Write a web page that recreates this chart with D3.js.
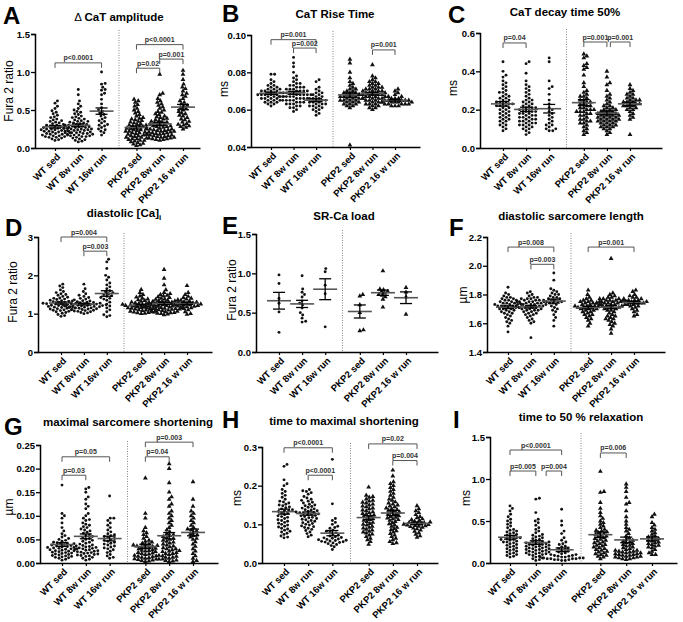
<!DOCTYPE html>
<html lang="en">
<head>
<meta charset="UTF-8">
<script src="https://d3js.org/d3.v7.min.js"></script>
<style>
  body { margin: 0; background: #fff; }
  svg { font-family: "Liberation Sans", Arial, sans-serif; }
</style>
</head>
<body>
<svg width="683" height="622"></svg>
<script>
// groups on every x axis, slot 2.75 holds the dotted divider
var groups = ["WT sed", "WT 8w run", "WT 16w run", "PKP2 sed", "PKP2 8w run", "PKP2 16 w run"];
var slots = [0, 1, 2, 3.5, 4.5, 5.5];

// ---- A: delta CaT amplitude (Fura 2 ratio)
var ampTicks = [0, 0.5, 1.0, 1.5];
var ampValues = [
  [0.62,0.59,0.55,0.52,0.49,0.47,0.45,0.43,0.41,0.40,0.38,0.37,0.36,0.35,0.34,0.33,0.32,0.31,0.30,0.30,0.29,0.28,0.28,0.27,0.27,0.26,0.26,0.25,0.25,0.24,0.24,0.23,0.23,0.22,0.22,0.21,0.21,0.20,0.20,0.19,0.19,0.18,0.18,0.17,0.17,0.16,0.16,0.15,0.15,0.14,0.14,0.13,0.12,0.11,0.10],
  [0.77,0.70,0.62,0.58,0.55,0.52,0.50,0.48,0.47,0.45,0.44,0.42,0.41,0.40,0.39,0.38,0.37,0.36,0.35,0.35,0.34,0.33,0.33,0.32,0.31,0.31,0.30,0.30,0.29,0.29,0.28,0.28,0.27,0.27,0.26,0.26,0.25,0.25,0.25,0.24,0.24,0.23,0.23,0.22,0.22,0.21,0.21,0.20,0.20,0.19,0.19,0.18,0.18,0.17,0.17,0.16,0.16,0.15,0.15,0.14,0.13,0.12,0.11,0.10,0.09,0.08],
  [1.00,0.85,0.84,0.80,0.77,0.76,0.72,0.70,0.64,0.58,0.53,0.50,0.48,0.46,0.44,0.42,0.40,0.38,0.36,0.35,0.33,0.31,0.29,0.27,0.25,0.22,0.20,0.17,0.30,0.24],
  [0.64,0.62,0.60,0.57,0.55,0.52,0.50,0.48,0.46,0.44,0.42,0.40,0.39,0.38,0.37,0.36,0.35,0.34,0.33,0.32,0.31,0.30,0.30,0.29,0.28,0.28,0.27,0.26,0.26,0.25,0.24,0.24,0.23,0.22,0.22,0.21,0.20,0.20,0.19,0.18,0.18,0.17,0.16,0.16,0.15,0.14,0.14,0.13,0.12,0.12,0.11,0.10,0.10,0.09,0.08,0.07,0.06,0.05,0.04,0.03],
  [0.97,0.72,0.70,0.65,0.62,0.60,0.58,0.56,0.54,0.52,0.50,0.48,0.47,0.45,0.44,0.42,0.41,0.40,0.39,0.38,0.37,0.36,0.35,0.34,0.34,0.33,0.32,0.31,0.31,0.30,0.29,0.29,0.28,0.28,0.27,0.26,0.26,0.25,0.25,0.24,0.24,0.23,0.23,0.22,0.22,0.21,0.21,0.20,0.20,0.19,0.19,0.18,0.18,0.17,0.17,0.16,0.16,0.15,0.15,0.14,0.14,0.13,0.13,0.12,0.12,0.11,0.11,0.10],
  [1.02,0.97,0.90,0.84,0.80,0.78,0.75,0.72,0.70,0.68,0.65,0.62,0.60,0.58,0.56,0.55,0.53,0.52,0.50,0.48,0.46,0.45,0.43,0.42,0.40,0.38,0.37,0.35,0.34,0.32,0.31,0.30,0.29,0.28,0.27,0.25]
];
var ampBrackets = [[0, 2, 1.12, "p<0.0001"], [3, 5, 1.36, "p<0.0001"], [3, 4, 1.05, "p=0.02"], [4, 5, 1.17, "p=0.001"]];

// ---- B: CaT rise time (ms)
var riseTicks = [0.04, 0.06, 0.08, 0.10];
var riseValues = [
  [0.079,0.079,0.076,0.075,0.074,0.073,0.073,0.072,0.072,0.071,0.071,0.071,0.070,0.070,0.070,0.070,0.069,0.069,0.069,0.069,0.068,0.068,0.068,0.068,0.068,0.067,0.067,0.067,0.067,0.066,0.066,0.066,0.066,0.065,0.065,0.065,0.064,0.064,0.064,0.063,0.063,0.062],
  [0.088,0.085,0.083,0.080,0.078,0.077,0.076,0.075,0.074,0.074,0.073,0.073,0.072,0.072,0.072,0.071,0.071,0.071,0.070,0.070,0.070,0.070,0.069,0.069,0.069,0.069,0.068,0.068,0.068,0.068,0.068,0.067,0.067,0.067,0.067,0.067,0.066,0.066,0.066,0.066,0.065,0.065,0.065,0.065,0.064,0.064,0.064,0.063,0.063,0.063,0.062,0.062,0.061,0.061,0.060,0.059],
  [0.076,0.075,0.072,0.071,0.070,0.069,0.069,0.068,0.068,0.067,0.067,0.066,0.066,0.066,0.065,0.065,0.065,0.064,0.064,0.064,0.063,0.063,0.063,0.062,0.062,0.062,0.061,0.061,0.060,0.060,0.059,0.058,0.057],
  [0.087,0.085,0.080,0.077,0.075,0.074,0.073,0.072,0.071,0.071,0.070,0.070,0.069,0.069,0.069,0.068,0.068,0.068,0.067,0.067,0.067,0.067,0.066,0.066,0.066,0.066,0.065,0.065,0.065,0.065,0.064,0.064,0.064,0.063,0.063,0.063,0.062,0.062,0.061,0.041],
  [0.084,0.078,0.077,0.076,0.075,0.075,0.074,0.074,0.073,0.073,0.072,0.072,0.072,0.071,0.071,0.071,0.070,0.070,0.070,0.070,0.069,0.069,0.069,0.069,0.068,0.068,0.068,0.068,0.068,0.067,0.067,0.067,0.067,0.066,0.066,0.066,0.066,0.065,0.065,0.065,0.064,0.064,0.064,0.063,0.063,0.063,0.062,0.062,0.061,0.061,0.060],
  [0.071,0.070,0.069,0.068,0.067,0.067,0.066,0.066,0.066,0.065,0.065,0.065,0.065,0.065,0.064,0.064,0.064,0.064,0.064,0.063,0.063,0.063,0.063,0.063,0.062,0.062,0.062]
];
var riseBrackets = [[0, 2, 0.0975, "p=0.001"], [1, 2, 0.093, "p=0.002"], [4, 5, 0.092, "p=0.001"]];

// ---- C: CaT decay time 50% (ms)
var decayTicks = [0, 0.2, 0.4, 0.6];
var decayValues = [
  [0.45,0.40,0.38,0.37,0.35,0.34,0.33,0.32,0.31,0.30,0.29,0.29,0.28,0.27,0.27,0.26,0.26,0.25,0.25,0.24,0.24,0.24,0.23,0.23,0.23,0.22,0.22,0.22,0.21,0.21,0.20,0.20,0.19,0.19,0.18,0.18,0.17,0.17,0.16,0.16,0.15,0.15,0.14,0.14,0.13,0.12,0.12,0.11,0.10,0.09],
  [0.45,0.44,0.39,0.35,0.33,0.32,0.31,0.30,0.29,0.28,0.27,0.26,0.25,0.25,0.24,0.24,0.23,0.23,0.22,0.22,0.21,0.21,0.21,0.20,0.20,0.20,0.19,0.19,0.19,0.18,0.18,0.18,0.17,0.17,0.17,0.16,0.16,0.16,0.15,0.15,0.15,0.14,0.14,0.14,0.13,0.13,0.13,0.12,0.12,0.12,0.11,0.11,0.10,0.10,0.09,0.08,0.07],
  [0.47,0.45,0.35,0.32,0.31,0.28,0.25,0.23,0.21,0.20,0.19,0.18,0.17,0.16,0.15,0.14,0.13,0.12,0.12,0.11,0.10,0.10,0.09,0.09],
  [0.49,0.48,0.47,0.44,0.43,0.42,0.41,0.38,0.34,0.32,0.30,0.29,0.28,0.27,0.27,0.26,0.25,0.25,0.24,0.24,0.23,0.23,0.22,0.22,0.21,0.21,0.20,0.20,0.20,0.19,0.19,0.19,0.18,0.18,0.17,0.17,0.16,0.15,0.15,0.14,0.14,0.13,0.13,0.12,0.11,0.10,0.09,0.08,0.07],
  [0.40,0.37,0.34,0.33,0.30,0.28,0.27,0.26,0.25,0.24,0.23,0.22,0.22,0.21,0.21,0.20,0.20,0.20,0.19,0.19,0.19,0.18,0.18,0.18,0.18,0.17,0.17,0.17,0.17,0.16,0.16,0.16,0.16,0.15,0.15,0.15,0.15,0.14,0.14,0.14,0.14,0.13,0.13,0.13,0.12,0.12,0.12,0.11,0.11,0.11,0.10,0.10,0.09,0.08,0.07],
  [0.33,0.31,0.30,0.29,0.28,0.28,0.27,0.26,0.26,0.25,0.25,0.25,0.24,0.24,0.24,0.23,0.23,0.23,0.22,0.22,0.22,0.21,0.21,0.20,0.20,0.19,0.18,0.17,0.16,0.15,0.07]
];
var decayBrackets = [[0, 1, 0.548, "p=0.04"], [3, 4, 0.553, "p=0.001"], [4.15, 5, 0.553, "p=0.001"]];

// ---- D: diastolic [Ca]i (Fura 2 ratio)
var diaCaTicks = [0, 1, 2, 3];
var diaCaValues = [
  [1.77,1.72,1.68,1.62,1.58,1.55,1.52,1.50,1.48,1.45,1.43,1.41,1.40,1.38,1.37,1.35,1.34,1.33,1.32,1.31,1.30,1.29,1.28,1.27,1.27,1.26,1.25,1.25,1.24,1.23,1.22,1.21,1.20,1.19,1.18,1.17,1.16,1.15,1.14,1.13,1.12,1.11,1.10,1.09,1.08,1.06,1.05,1.03,1.01,0.98,0.95,0.93],
  [1.77,1.65,1.58,1.52,1.48,1.45,1.42,1.40,1.38,1.36,1.34,1.33,1.32,1.31,1.30,1.29,1.28,1.27,1.26,1.26,1.25,1.25,1.24,1.23,1.23,1.22,1.21,1.21,1.20,1.20,1.19,1.18,1.18,1.17,1.16,1.15,1.15,1.14,1.13,1.12,1.11,1.10,1.09,1.08,1.07,1.06,1.05,1.03,1.02,1.00],
  [2.42,2.35,2.18,2.00,1.95,1.88,1.80,1.75,1.70,1.65,1.60,1.57,1.55,1.52,1.50,1.47,1.45,1.42,1.40,1.38,1.35,1.30,1.25,1.20,1.15,1.10,1.05,0.97,0.95,0.92],
  [1.63,1.55,1.50,1.46,1.43,1.40,1.38,1.36,1.34,1.32,1.31,1.30,1.29,1.28,1.27,1.26,1.25,1.24,1.24,1.23,1.22,1.22,1.21,1.20,1.20,1.19,1.18,1.17,1.16,1.15,1.14,1.13,1.12,1.11,1.10,1.09,1.08,1.07,1.06,1.05,1.04,1.03,1.02,1.01,1.00],
  [2.15,1.92,1.75,1.62,1.55,1.52,1.50,1.48,1.46,1.44,1.42,1.40,1.38,1.37,1.36,1.35,1.34,1.33,1.32,1.31,1.30,1.29,1.28,1.27,1.26,1.25,1.25,1.24,1.23,1.22,1.21,1.20,1.20,1.19,1.18,1.17,1.17,1.16,1.15,1.15,1.14,1.13,1.13,1.12,1.11,1.10,1.09,1.08,1.07,1.06,1.05,1.04,1.03,1.02,1.01,1.00,0.99,0.97],
  [1.73,1.55,1.50,1.45,1.42,1.40,1.38,1.35,1.33,1.31,1.30,1.29,1.28,1.27,1.26,1.25,1.25,1.24,1.23,1.22,1.21,1.20,1.19,1.18,1.16,1.15,1.13,1.10,1.05,1.00,0.98]
];
var diaCaBrackets = [[0, 2, 3.0, "p=0.004"], [1, 2, 2.63, "p=0.003"]];

// ---- E: SR-Ca load (Fura 2 ratio)
var srTicks = [0, 0.5, 1.0, 1.5];
var srValues = [
  [0.98,0.87,0.68,0.62,0.51,0.25],
  [0.97,0.80,0.76,0.73,0.70,0.65,0.62,0.60,0.56,0.50,0.47,0.43,0.39,0.38],
  [1.06,1.02,0.85,0.74,0.32],
  [0.73,0.71,0.60,0.50,0.28,0.27],
  [1.03,0.80,0.79,0.77,0.76,0.75,0.73,0.72,0.70,0.67,0.57],
  [0.82,0.76,0.70,0.48]
];
var srBrackets = [];

// ---- F: diastolic sarcomere length (um)
var slTicks = [1.4, 1.6, 1.8, 2.0, 2.2];
var slValues = [
  [1.85,1.81,1.80,1.79,1.78,1.78,1.77,1.77,1.76,1.76,1.76,1.75,1.75,1.75,1.74,1.74,1.74,1.73,1.73,1.73,1.73,1.72,1.72,1.72,1.72,1.71,1.71,1.71,1.70,1.70,1.70,1.69,1.69,1.68,1.68,1.67,1.67,1.66,1.65,1.64,1.63,1.62,1.61,1.60,1.58,1.54],
  [1.82,1.81,1.80,1.79,1.78,1.78,1.77,1.77,1.77,1.76,1.76,1.76,1.75,1.75,1.75,1.75,1.74,1.74,1.74,1.74,1.73,1.73,1.73,1.73,1.72,1.72,1.72,1.72,1.71,1.71,1.71,1.71,1.70,1.70,1.70,1.69,1.69,1.69,1.68,1.68,1.67,1.67,1.66,1.66,1.65,1.64,1.63,1.62,1.61,1.60,1.50],
  [1.95,1.90,1.84,1.83,1.82,1.81,1.80,1.80,1.79,1.78,1.78,1.77,1.77,1.76,1.76,1.76,1.75,1.75,1.75,1.74,1.74,1.73,1.72,1.71,1.70,1.69,1.68,1.66,1.64,1.62,1.58],
  [1.83,1.80,1.78,1.77,1.76,1.76,1.75,1.75,1.75,1.74,1.74,1.74,1.73,1.73,1.73,1.72,1.72,1.72,1.72,1.71,1.71,1.71,1.70,1.70,1.70,1.69,1.69,1.68,1.68,1.67,1.66,1.66,1.65,1.64,1.63,1.62,1.60,1.58],
  [2.05,1.81,1.80,1.79,1.78,1.78,1.77,1.77,1.77,1.76,1.76,1.76,1.76,1.75,1.75,1.75,1.75,1.74,1.74,1.74,1.74,1.73,1.73,1.73,1.73,1.72,1.72,1.72,1.71,1.71,1.71,1.70,1.70,1.69,1.69,1.68,1.67,1.66,1.65,1.65,1.64,1.63,1.63,1.62,1.61,1.60,1.59,1.58,1.56,1.53],
  [1.83,1.82,1.80,1.79,1.78,1.78,1.77,1.77,1.76,1.76,1.76,1.75,1.75,1.75,1.75,1.74,1.74,1.74,1.73,1.73,1.72,1.72,1.71,1.70,1.69,1.68,1.66,1.65]
];
var slBrackets = [[0, 2, 2.13, "p=0.008"], [1, 2, 2.01, "p=0.003"], [3, 5, 2.13, "p=0.001"]];

// ---- G: maximal sarcomere shortening (um)
var shortTicks = [0, 0.05, 0.10, 0.15, 0.20, 0.25];
var shortValues = [
  [0.165,0.105,0.100,0.095,0.085,0.075,0.068,0.062,0.058,0.055,0.052,0.050,0.048,0.046,0.044,0.043,0.042,0.041,0.040,0.039,0.038,0.037,0.036,0.035,0.034,0.033,0.033,0.032,0.031,0.030,0.030,0.029,0.028,0.027,0.026,0.026,0.025,0.024,0.023,0.022,0.021,0.020,0.019,0.018,0.017,0.016,0.015,0.014,0.013,0.012,0.011,0.010,0.008,0.006],
  [0.160,0.157,0.150,0.140,0.135,0.125,0.120,0.115,0.105,0.100,0.095,0.092,0.090,0.085,0.082,0.080,0.077,0.075,0.072,0.070,0.068,0.065,0.063,0.060,0.058,0.056,0.054,0.052,0.050,0.048,0.046,0.044,0.042,0.040,0.038,0.037,0.036,0.035,0.034,0.033,0.032,0.031,0.030,0.029,0.028,0.027,0.026,0.025,0.024,0.023,0.022,0.021,0.020,0.019,0.018,0.017,0.016,0.015,0.014,0.012,0.010,0.008,0.006],
  [0.142,0.095,0.095,0.090,0.085,0.080,0.075,0.070,0.066,0.062,0.060,0.058,0.056,0.054,0.052,0.050,0.048,0.046,0.044,0.042,0.040,0.038,0.036,0.034,0.032,0.030,0.028,0.025,0.022,0.018,0.015,0.012,0.010],
  [0.180,0.105,0.095,0.075,0.068,0.064,0.060,0.056,0.052,0.048,0.046,0.044,0.042,0.040,0.039,0.038,0.037,0.036,0.035,0.034,0.033,0.032,0.031,0.030,0.028,0.027,0.026,0.025,0.024,0.022,0.021,0.020,0.019,0.018,0.016,0.015,0.014,0.013,0.012,0.011,0.010,0.009,0.008,0.007,0.006,0.005,0.004,0.003],
  [0.210,0.200,0.170,0.150,0.140,0.135,0.125,0.120,0.110,0.105,0.100,0.095,0.090,0.085,0.080,0.075,0.070,0.066,0.062,0.060,0.058,0.056,0.054,0.052,0.050,0.048,0.046,0.044,0.042,0.040,0.038,0.036,0.034,0.032,0.030,0.028,0.026,0.024,0.022,0.020,0.018,0.016,0.014,0.012,0.010,0.008,0.006,0.005,0.004,0.003,0.030,0.025,0.020,0.015,0.012,0.008],
  [0.172,0.135,0.120,0.110,0.105,0.100,0.095,0.090,0.085,0.080,0.075,0.072,0.070,0.068,0.065,0.062,0.060,0.058,0.055,0.052,0.050,0.045,0.040,0.035,0.030,0.025,0.020,0.015,0.010,0.005,0.003]
];
var shortBrackets = [[0, 2, 0.225, "p=0.05"], [0, 1, 0.186, "p=0.03"], [3, 5, 0.256, "p=0.003"], [3, 4, 0.225, "p=0.04"]];

// ---- H: time to maximal shortening (ms)
var ttpTicks = [0, 0.1, 0.2, 0.3];
var ttpValues = [
  [0.255,0.250,0.215,0.205,0.200,0.190,0.185,0.180,0.175,0.170,0.165,0.160,0.158,0.155,0.152,0.150,0.148,0.145,0.143,0.140,0.138,0.136,0.135,0.133,0.130,0.128,0.125,0.122,0.120,0.118,0.115,0.112,0.110,0.108,0.105,0.103,0.100,0.098,0.095,0.093,0.090,0.088,0.085,0.082,0.080,0.077,0.074,0.070,0.067,0.065],
  [0.190,0.187,0.185,0.182,0.178,0.172,0.168,0.165,0.162,0.160,0.157,0.155,0.152,0.150,0.148,0.146,0.144,0.142,0.140,0.138,0.137,0.135,0.134,0.132,0.131,0.130,0.128,0.127,0.126,0.125,0.123,0.122,0.120,0.118,0.117,0.115,0.113,0.112,0.110,0.108,0.106,0.104,0.102,0.100,0.098,0.096,0.094,0.092,0.090,0.087,0.084,0.080,0.076,0.072,0.068],
  [0.268,0.153,0.115,0.110,0.105,0.100,0.095,0.092,0.090,0.085,0.082,0.080,0.078,0.075,0.072,0.070,0.068,0.066,0.065,0.064,0.062,0.061,0.060,0.059,0.058,0.057,0.056,0.055,0.054,0.053,0.052,0.050,0.048,0.045,0.042,0.035],
  [0.196,0.175,0.172,0.170,0.165,0.162,0.160,0.157,0.155,0.152,0.150,0.147,0.145,0.142,0.140,0.137,0.135,0.132,0.130,0.128,0.126,0.124,0.122,0.120,0.118,0.115,0.112,0.110,0.107,0.105,0.102,0.100,0.098,0.095,0.092,0.090,0.087,0.085,0.082,0.080,0.077,0.075,0.072,0.068,0.064,0.060,0.055,0.048],
  [0.240,0.225,0.210,0.205,0.200,0.195,0.190,0.185,0.180,0.175,0.170,0.165,0.162,0.158,0.155,0.152,0.150,0.147,0.145,0.142,0.140,0.138,0.136,0.134,0.132,0.130,0.128,0.126,0.124,0.122,0.120,0.118,0.116,0.114,0.112,0.110,0.107,0.104,0.101,0.098,0.095,0.092,0.089,0.086,0.083,0.080,0.076,0.072,0.068,0.064,0.060,0.055,0.052,0.050],
  [0.148,0.140,0.135,0.130,0.125,0.120,0.117,0.114,0.112,0.110,0.108,0.106,0.105,0.104,0.103,0.102,0.101,0.100,0.099,0.098,0.097,0.096,0.095,0.094,0.092,0.090,0.088,0.085,0.082,0.078,0.074,0.070,0.066]
];
var ttpBrackets = [[0, 2, 0.298, "p<0.0001"], [1, 2, 0.227, "p<0.0001"], [3, 5, 0.308, "p=0.02"], [4, 5, 0.265, "p=0.004"]];

// ---- I: time to 50 % relaxation (ms)
var relaxTicks = [0, 0.5, 1.0, 1.5];
var relaxValues = [
  [0.68,0.65,0.62,0.58,0.55,0.52,0.50,0.48,0.46,0.44,0.42,0.40,0.39,0.38,0.37,0.36,0.35,0.34,0.33,0.32,0.31,0.30,0.30,0.29,0.28,0.28,0.27,0.26,0.25,0.25,0.24,0.23,0.22,0.21,0.20,0.19,0.18,0.17,0.16,0.15,0.14,0.13,0.12,0.11,0.10,0.09,0.08,0.07],
  [0.77,0.76,0.60,0.52,0.50,0.48,0.45,0.42,0.40,0.38,0.36,0.34,0.33,0.32,0.31,0.30,0.29,0.28,0.27,0.26,0.25,0.25,0.24,0.24,0.23,0.23,0.22,0.22,0.21,0.21,0.20,0.20,0.19,0.19,0.18,0.18,0.17,0.17,0.16,0.16,0.15,0.15,0.14,0.14,0.13,0.13,0.12,0.12,0.11,0.11,0.10,0.10,0.09,0.08,0.07,0.06,0.05,0.04,0.03],
  [0.64,0.50,0.45,0.38,0.35,0.30,0.27,0.25,0.23,0.22,0.20,0.19,0.18,0.17,0.16,0.15,0.14,0.13,0.12,0.11,0.10,0.10,0.09,0.09,0.08,0.08,0.07,0.07,0.07,0.06,0.06,0.06,0.05,0.05,0.05,0.05,0.04,0.04,0.04,0.03,0.03],
  [1.09,0.85,0.84,0.72,0.65,0.60,0.56,0.53,0.50,0.48,0.46,0.44,0.42,0.40,0.39,0.38,0.37,0.36,0.35,0.34,0.33,0.32,0.31,0.30,0.29,0.28,0.27,0.26,0.25,0.24,0.23,0.22,0.21,0.20,0.19,0.18,0.17,0.16,0.15,0.14,0.13,0.12,0.11,0.10,0.09,0.08,0.07,0.05],
  [0.94,0.90,0.85,0.78,0.72,0.70,0.62,0.55,0.50,0.46,0.42,0.40,0.38,0.35,0.32,0.30,0.28,0.27,0.26,0.25,0.24,0.23,0.22,0.21,0.20,0.19,0.18,0.17,0.16,0.15,0.15,0.14,0.14,0.13,0.13,0.12,0.12,0.11,0.11,0.10,0.10,0.09,0.09,0.08,0.08,0.07,0.07,0.06,0.06,0.05,0.05,0.04],
  [0.58,0.55,0.48,0.45,0.42,0.40,0.38,0.36,0.34,0.32,0.31,0.30,0.29,0.28,0.27,0.26,0.25,0.24,0.23,0.22,0.21,0.20,0.19,0.18,0.16,0.14,0.12,0.10,0.10]
];
var relaxBrackets = [[0, 2, 1.345, "p<0.0001"], [0, 1, 1.095, "p=0.005"], [1.4, 2, 1.095, "p=0.004"], [3, 4, 1.31, "p=0.006"]];

// panel layout: plot box in page pixels, first/last = x of first and last group
var panels = [
  {letter: "A", title: ["\u0394 ", "CaT amplitude"], ylab: "Fura 2 ratio", ticks: ampTicks, fmt: ".1f", values: ampValues, brackets: ampBrackets,
   left: 35, right: 200, top: 34, bottom: 148, first: 55, last: 183, lx: 3, ly: 24, tx: 119, ty: 21, yx: 13, yy: 91},
  {letter: "B", title: ["", "CaT Rise Time"], ylab: "ms", ticks: riseTicks, fmt: ".2f", values: riseValues, brackets: riseBrackets,
   left: 251, right: 420, top: 35, bottom: 147, first: 271, last: 395, lx: 222, ly: 22, tx: 335, ty: 18, yx: 228, yy: 89},
  {letter: "C", title: ["", "CaT decay time 50%"], ylab: "ms", ticks: decayTicks, fmt: ".1f", values: decayValues, brackets: decayBrackets,
   left: 480, right: 662, top: 33, bottom: 148, first: 503, last: 630, lx: 448, ly: 23, tx: 565, ty: 16, yx: 457, yy: 88},
  {letter: "D", title: ["", "diastolic [Ca]", "i"], ylab: "Fura 2 ratio", ticks: diaCaTicks, fmt: "d", values: diaCaValues, brackets: diaCaBrackets,
   left: 38, right: 212, top: 237, bottom: 352, first: 61, last: 187, lx: 5, ly: 236, tx: 124, ty: 217, yx: 17, yy: 292},
  {letter: "E", title: ["", "SR-Ca load"], ylab: "Fura 2 ratio", ticks: srTicks, fmt: ".1f", values: srValues, brackets: srBrackets,
   left: 256, right: 438, top: 234, bottom: 352, first: 279, last: 406, lx: 222, ly: 234, tx: 344, ty: 220, yx: 236, yy: 290},
  {letter: "F", title: ["", "diastolic sarcomere length"], ylab: "\u00b5m", ticks: slTicks, fmt: ".1f", values: slValues, brackets: slBrackets,
   left: 487, right: 665, top: 237, bottom: 352, first: 508, last: 634, lx: 449, ly: 236, tx: 571, ty: 220, yx: 467, yy: 295},
  {letter: "G", title: ["", "maximal sarcomere shortening"], ylab: "\u00b5m", ticks: shortTicks, fmt: ".2f", values: shortValues, brackets: shortBrackets,
   left: 40, right: 218, top: 445, bottom: 563, first: 62, last: 193, lx: 4, ly: 435, tx: 128, ty: 426, yx: 13, yy: 507},
  {letter: "H", title: ["", "time to maximal shortening"], ylab: "ms", ticks: ttpTicks, fmt: ".1f", values: ttpValues, brackets: ttpBrackets,
   left: 262, right: 438, top: 447, bottom: 563, first: 284, last: 417, lx: 222, ly: 428, tx: 344, ty: 425, yx: 241, yy: 498},
  {letter: "I", title: ["", "time to 50 % relaxation"], ylab: "ms", ticks: relaxTicks, fmt: ".1f", values: relaxValues, brackets: relaxBrackets,
   left: 490, right: 677, top: 437, bottom: 563, first: 510, last: 652, lx: 453, ly: 428, tx: 581, ty: 421, yx: 470, yy: 498}
];

var svg = d3.select("svg");
var tri = d3.symbol().type(d3.symbolTriangle).size(10);

// simple beeswarm: push each point sideways until it clears the ones already placed
function swarm(vals, y, cx, d) {
  var placed = [];
  return vals.slice().sort(d3.ascending).map(function(v) {
    var py = y(v), off = 0;
    for (var k = 0; k < 400; k++) {
      off = (k % 2 ? 1 : -1) * Math.ceil(k / 2) * 0.6;
      var ok = placed.every(function(p) { return (p.x - off) * (p.x - off) + (p.y - py) * (p.y - py) >= d * d; });
      if (ok) break;
    }
    placed.push({x: off, y: py});
    return {x: cx + off, y: py};
  });
}

panels.forEach(function(p) {
  var g = svg.append("g");
  var y = d3.scaleLinear().domain([p.ticks[0], p.ticks[p.ticks.length - 1]]).range([p.bottom, p.top]);
  var x = d3.scaleLinear().domain([0, 5.5]).range([p.first, p.last]);
  var xAxisScale = d3.scaleLinear().domain([x.invert(p.left), x.invert(p.right)]).range([p.left, p.right]);

  // panel letter, title, y label
  g.append("text").attr("x", p.lx).attr("y", p.ly)
    .attr("font-size", 24).attr("font-weight", "bold").text(p.letter);
  var t = g.append("text").attr("x", p.tx).attr("y", p.ty).attr("text-anchor", "middle")
    .attr("font-size", 11.5).attr("font-weight", "bold");
  if (p.title[0]) t.append("tspan").attr("font-weight", "normal").text(p.title[0]);
  t.append("tspan").text(p.title[1]);
  if (p.title[2]) t.append("tspan").attr("font-size", 8).attr("dy", 3).text(p.title[2]);
  g.append("text").attr("transform", "translate(" + p.yx + "," + p.yy + ") rotate(-90)")
    .attr("text-anchor", "middle").attr("font-size", 12).text(p.ylab);

  // divider between WT and PKP2
  g.append("line").attr("x1", x(2.75)).attr("x2", x(2.75)).attr("y1", p.top - 4).attr("y2", p.bottom)
    .attr("stroke", "#888").attr("stroke-width", 1).attr("stroke-dasharray", "1,1.5");

  // y axis
  var ya = g.append("g").attr("transform", "translate(" + p.left + ",0)")
    .call(d3.axisLeft(y).tickValues(p.ticks).tickSize(4).tickPadding(1).tickFormat(d3.format(p.fmt)));
  ya.select(".domain").attr("stroke-width", 1.5);
  ya.selectAll(".tick line").attr("stroke-width", 1.3);
  ya.selectAll("text").attr("font-size", 9.5).attr("font-weight", "bold").attr("font-family", "Liberation Sans, Arial");

  // x axis
  var xa = g.append("g").attr("transform", "translate(0," + p.bottom + ")")
    .call(d3.axisBottom(xAxisScale).tickValues(slots).tickSize(3).tickSizeOuter(0)
      .tickFormat(function(d, i) { return groups[i]; }));
  xa.select(".domain").attr("stroke-width", 1.5);
  xa.selectAll(".tick line").attr("stroke-width", 1.2);
  xa.selectAll("text").attr("font-size", 9.5).attr("font-weight", "bold").attr("font-family", "Liberation Sans, Arial")
    .attr("text-anchor", "end").attr("x", 0).attr("y", 0).attr("dy", "0.35em")
    .attr("transform", "translate(3,7) rotate(-45)");

  // points, mean and SEM per group
  p.values.forEach(function(vals, i) {
    var cx = x(slots[i]);
    var pts = swarm(vals, y, cx, 3.2);
    if (i < 3) {
      g.selectAll(null).data(pts).enter().append("circle")
        .attr("cx", function(d) { return d.x; }).attr("cy", function(d) { return d.y; })
        .attr("r", 1.45).attr("fill", "#111");
    } else {
      g.selectAll(null).data(pts).enter().append("path").attr("d", tri)
        .attr("transform", function(d) { return "translate(" + d.x + "," + d.y + ")"; })
        .attr("fill", "#111");
    }
    var m = d3.mean(vals), sem = d3.deviation(vals) / Math.sqrt(vals.length);
    g.append("line").attr("x1", cx - 12).attr("x2", cx + 12).attr("y1", y(m)).attr("y2", y(m))
      .attr("stroke", "#555").attr("stroke-width", 1.6);
    g.append("line").attr("x1", cx).attr("x2", cx).attr("y1", y(m - sem)).attr("y2", y(m + sem))
      .attr("stroke", "#000").attr("stroke-width", 1.3);
    [m - sem, m + sem].forEach(function(v) {
      g.append("line").attr("x1", cx - 6).attr("x2", cx + 6).attr("y1", y(v)).attr("y2", y(v))
        .attr("stroke", "#000").attr("stroke-width", 1.3);
    });
  });

  // significance brackets
  p.brackets.forEach(function(b) {
    var x1 = x(slots[Math.floor(b[0])] + (b[0] % 1)), x2 = x(slots[b[1]]), by = y(b[2]);
    g.append("path").attr("d", "M" + x1 + "," + (by + 5) + "V" + by + "H" + x2 + "V" + (by + 5))
      .attr("fill", "none").attr("stroke", "#555").attr("stroke-width", 1);
    g.append("text").attr("x", (x1 + x2) / 2).attr("y", by - 2.5).attr("text-anchor", "middle")
      .attr("font-size", 7).attr("font-weight", "bold").attr("fill", "#333").text(b[3]);
  });
});
</script>
</body>
</html>
